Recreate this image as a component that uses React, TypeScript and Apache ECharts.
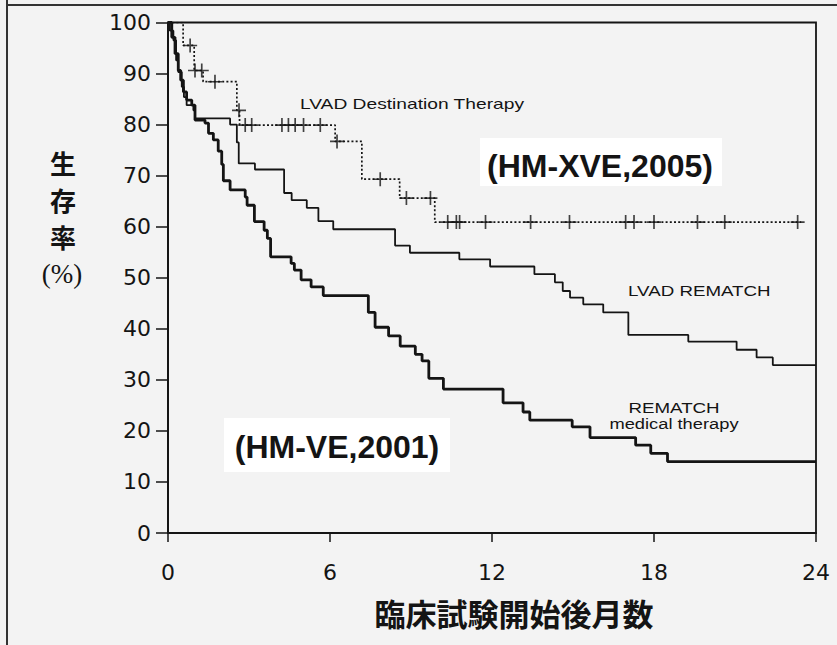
import React, { useEffect, useRef } from "react";
import * as echarts from "echarts";

// x: months since start of trial, y: survival (%)
const xTicks = [0, 6, 12, 18, 24];
const yTicks = [0, 10, 20, 30, 40, 50, 60, 70, 80, 90, 100];

// LVAD Destination Therapy (HM-XVE, 2005) — step drops [month, %]
const dtSteps: [number, number][] = [
  [0, 100], [0.56, 95.5], [0.97, 90.6], [1.3, 88.4], [2.55, 82.8], [2.65, 79.9],
  [6.19, 76.7], [7.18, 69.3], [8.58, 65.6], [9.88, 60.9], [23.45, 60.9],
];
// censored observations of the destination therapy curve
const dtCensored: [number, number][] = [
  [0.82, 95.5], [1.0, 90.6], [1.25, 90.6], [1.74, 88.4], [2.63, 82.8],
  [2.86, 79.9], [3.1, 79.9], [4.22, 79.9], [4.46, 79.9], [4.71, 79.9], [5.02, 79.9], [5.64, 79.9],
  [6.26, 76.7], [7.86, 69.3], [8.83, 65.6], [9.72, 65.6],
  [10.36, 60.9], [10.68, 60.9], [10.8, 60.9], [11.76, 60.9], [13.43, 60.9], [14.87, 60.9],
  [16.95, 60.9], [17.26, 60.9], [18.0, 60.9], [19.61, 60.9], [20.62, 60.9], [23.32, 60.9],
];
// LVAD REMATCH (HM-VE, 2001)
const lvadSteps: [number, number][] = [
  [0, 100], [0.07, 98.4], [0.2, 96.5], [0.3, 92.6], [0.38, 90.3], [0.51, 87.4], [0.59, 85.4],
  [0.69, 83.8], [0.94, 82.8], [1.0, 81.2], [2.3, 80.0], [2.55, 76.5], [2.62, 72.4], [3.22, 71.2],
  [4.3, 66.6], [4.58, 65.2], [5.14, 63.7], [5.57, 61.1], [6.12, 59.5], [8.41, 56.3], [8.96, 54.9],
  [10.79, 53.6], [11.93, 52.2], [13.57, 50.7], [14.33, 49.1], [14.62, 47.4], [14.89, 46.1],
  [15.38, 44.8], [16.12, 43.2], [17.05, 38.8], [19.27, 37.5], [21.06, 35.9], [21.8, 34.4],
  [22.4, 32.9], [24, 32.9],
];
// REMATCH medical therapy
const medSteps: [number, number][] = [
  [0, 100], [0.14, 97.1], [0.26, 93.9], [0.38, 90.6], [0.47, 88.7], [0.57, 86.4], [0.69, 84.8],
  [0.88, 83.8], [1.0, 80.9], [1.37, 80.3], [1.5, 78.3], [1.68, 77.0], [1.86, 74.8], [1.99, 72.2],
  [2.05, 69.0], [2.3, 67.2], [2.86, 65.8], [2.93, 64.2], [3.2, 61.0], [3.56, 59.3], [3.68, 57.7],
  [3.8, 54.1], [4.56, 52.8], [4.68, 51.5], [4.93, 49.6], [5.3, 48.2], [5.75, 46.5], [7.42, 43.2],
  [7.67, 40.3], [8.17, 38.6], [8.6, 36.6], [9.16, 35.0], [9.41, 33.7], [9.66, 30.3], [10.2, 28.2],
  [12.41, 25.5], [13.15, 23.7], [13.4, 22.1], [14.97, 20.8], [15.63, 18.7], [17.32, 17.2],
  [17.88, 15.6], [18.5, 14.0], [24, 14.0],
];

const ink = "#141414";
const plusPath =
  "path://M4.4,0h1.2v4.4h4.4v1.2h-4.4v4.4h-1.2v-4.4h-4.4v-1.2h4.4z";

export default function App() {
  const ref = useRef<HTMLDivElement>(null);
  useEffect(() => {
    const chart = echarts.init(ref.current!, null, { renderer: "svg" });
    const sans = "'Liberation Sans', Arial, sans-serif";
    const cjk = "'Noto Sans CJK JP', sans-serif";
    const tickFont = "'DejaVu Sans', sans-serif";
    const yTitle = (ch: string, y: number) => ({
      type: "text", x: 63, y, z: 10,
      style: {
        text: ch, fill: ink, fontFamily: cjk, fontWeight: "bold", fontSize: 26, lineHeight: 28,
        align: "center", verticalAlign: "middle",
      },
    });
    chart.setOption({
      animation: false,
      backgroundColor: "#f3f3f3",
      grid: {
        left: 168, right: 21, top: 22.5, bottom: 112, containLabel: false,
        show: true, borderColor: ink, borderWidth: 1.8, backgroundColor: "transparent",
      },
      xAxis: {
        type: "value", min: xTicks[0], max: xTicks[xTicks.length - 1], interval: 6,
        axisLine: { lineStyle: { color: ink, width: 2 } },
        axisTick: { length: 9, lineStyle: { color: ink, width: 1.5 } },
        axisLabel: { color: ink, fontSize: 22, fontFamily: tickFont, margin: 28 },
        splitLine: { show: false },
      },
      yAxis: {
        type: "value", min: yTicks[0], max: yTicks[yTicks.length - 1], interval: 10,
        axisLine: { show: true, lineStyle: { color: ink, width: 2 } },
        axisTick: { show: true, length: 12, lineStyle: { color: ink, width: 1.5 } },
        axisLabel: { color: ink, fontSize: 22, fontFamily: tickFont, margin: 17 },
        splitLine: { show: false },
      },
      series: [
        {
          name: "LVAD Destination Therapy", type: "line", step: "end", data: dtSteps,
          showSymbol: false, lineStyle: { color: ink, width: 1.7, type: [2, 2.2] }, z: 3,
        },
        {
          name: "censored", type: "scatter", data: dtCensored, symbol: plusPath,
          symbolSize: 14, itemStyle: { color: ink }, z: 4,
        },
        {
          name: "LVAD REMATCH", type: "line", step: "end", data: lvadSteps,
          showSymbol: false, lineStyle: { color: ink, width: 1.8 }, z: 3,
        },
        {
          name: "REMATCH medical therapy", type: "line", step: "end", data: medSteps,
          showSymbol: false, lineStyle: { color: ink, width: 2.8 }, z: 3,
        },
      ],
      graphic: [
        { type: "line", shape: { x1: 7, y1: 0, x2: 7, y2: 645 }, style: { stroke: "#333", lineWidth: 2 } },
        { type: "line", shape: { x1: 6, y1: 5, x2: 837, y2: 5 }, style: { stroke: "#333", lineWidth: 2 } },
        { type: "rect", shape: { x: 480, y: 138, width: 242, height: 48 }, style: { fill: "#ffffff" }, z: 1 },
        { type: "rect", shape: { x: 224, y: 418, width: 226, height: 54 }, style: { fill: "#ffffff" }, z: 1 },
        {
          type: "text", x: 600, y: 166, z: 10,
          style: { text: "(HM-XVE,2005)", fill: ink, font: `bold 32px ${sans}`, align: "center", verticalAlign: "middle" },
        },
        {
          type: "text", x: 337, y: 447, z: 10,
          style: { text: "(HM-VE,2001)", fill: ink, font: `bold 32px ${sans}`, align: "center", verticalAlign: "middle" },
        },
        {
          type: "text", x: 300, y: 104, scaleX: 1.28, z: 10,
          style: { text: "LVAD Destination Therapy", fill: ink, font: `15px ${sans}`, align: "left", verticalAlign: "middle" },
        },
        {
          type: "text", x: 628, y: 291, scaleX: 1.25, z: 10,
          style: { text: "LVAD REMATCH", fill: ink, font: `15px ${sans}`, align: "left", verticalAlign: "middle" },
        },
        {
          type: "text", x: 674, y: 408, scaleX: 1.25, z: 10,
          style: { text: "REMATCH", fill: ink, font: `15px ${sans}`, align: "center", verticalAlign: "middle" },
        },
        {
          type: "text", x: 674, y: 424, scaleX: 1.22, z: 10,
          style: { text: "medical therapy", fill: ink, font: `15px ${sans}`, align: "center", verticalAlign: "middle" },
        },
        yTitle("生", 162),
        yTitle("存", 199),
        yTitle("率", 236),
        {
          type: "text", x: 62, y: 274, z: 10,
          style: { text: "(%)", fill: ink, font: `27px 'Liberation Serif', serif`, align: "center", verticalAlign: "middle" },
        },
        {
          type: "text", x: 514, y: 612, z: 10,
          style: { text: "臨床試験開始後月数", fill: ink, font: `bold 31px ${cjk}`, align: "center", verticalAlign: "middle" },
        },
      ],
    });
    return () => chart.dispose();
  }, []);
  return (
    <div
      ref={ref}
      style={{ position: "fixed", left: 0, top: 0, width: 837, height: 645, background: "#f3f3f3" }}
    />
  );
}
